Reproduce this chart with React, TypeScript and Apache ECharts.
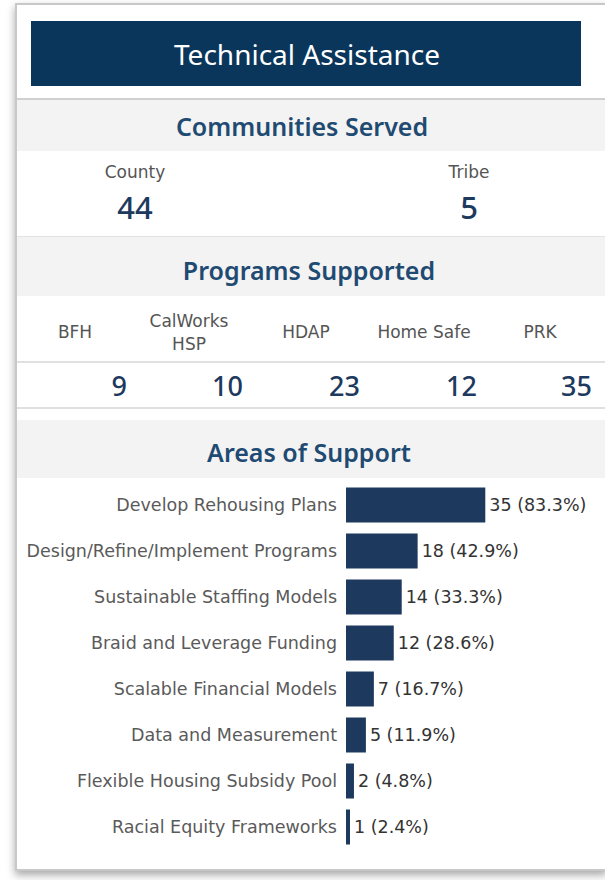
import React, { useEffect, useRef } from "react";
import * as echarts from "echarts";

const pageTitle = "Technical Assistance";
const communityLabels = ["County", "Tribe"];
const communityValues = [44, 5];
const programLabels = ["BFH", "CalWorks\nHSP", "HDAP", "Home Safe", "PRK"];
const programValues = [9, 10, 23, 12, 35];
const areaCategories = [
  "Develop Rehousing Plans",
  "Design/Refine/Implement Programs",
  "Sustainable Staffing Models",
  "Braid and Leverage Funding",
  "Scalable Financial Models",
  "Data and Measurement",
  "Flexible Housing Subsidy Pool",
  "Racial Equity Frameworks",
];
const areaValues = [35, 18, 14, 12, 7, 5, 2, 1];
const areaPercents = ["83.3%", "42.9%", "33.3%", "28.6%", "16.7%", "11.9%", "4.8%", "2.4%"];

const FONT = "DejaVu Sans";
const TFONT = "Noto Sans";
const NAVY = "#1d3a5e";
const TITLE_BLUE = "#1f4a72";

export default function App() {
  const ref = useRef<HTMLDivElement>(null);
  useEffect(() => {
    if (!ref.current) return;
    const chart = echarts.init(ref.current, null, { renderer: "svg" });

    const communityX = [135, 469];
    const programX = [75, 189, 306, 424, 540];
    const programValRight = [127, 243, 360, 477, 592];

    const graphics: any[] = [
      { type: "rect", shape: { x: 16, y: 4, width: 590, height: 866 }, style: { fill: "#ffffff", stroke: "#c8c8c8", lineWidth: 2, shadowBlur: 8, shadowColor: "rgba(0,0,0,0.35)", shadowOffsetY: 4 }, z: -10 },
      { type: "rect", shape: { x: 31, y: 21, width: 550, height: 65 }, style: { fill: "#0a365b" } },
      { type: "text", x: 307, y: 54, style: { text: pageTitle, fill: "#ffffff", font: `28px "${TFONT}"`, align: "center", verticalAlign: "middle" } },
      { type: "line", shape: { x1: 17, y1: 99, x2: 605, y2: 99 }, style: { stroke: "#d0d0d0", lineWidth: 2 } },
      { type: "rect", shape: { x: 17, y: 100, width: 588, height: 51 }, style: { fill: "#f3f3f3" } },
      { type: "text", x: 302, y: 126, style: { text: "Communities Served", fill: TITLE_BLUE, font: `600 25px "${TFONT}"`, align: "center", verticalAlign: "middle" } },
      { type: "line", shape: { x1: 17, y1: 236.5, x2: 605, y2: 236.5 }, style: { stroke: "#e2e2e2", lineWidth: 1 } },
      { type: "rect", shape: { x: 17, y: 237, width: 588, height: 59 }, style: { fill: "#f3f3f3" } },
      { type: "text", x: 309, y: 270, style: { text: "Programs Supported", fill: TITLE_BLUE, font: `600 25px "${TFONT}"`, align: "center", verticalAlign: "middle" } },
      { type: "line", shape: { x1: 17, y1: 362, x2: 605, y2: 362 }, style: { stroke: "#d6d6d6", lineWidth: 1.5 } },
      { type: "line", shape: { x1: 17, y1: 408, x2: 605, y2: 408 }, style: { stroke: "#d6d6d6", lineWidth: 1.5 } },
      { type: "rect", shape: { x: 17, y: 420, width: 588, height: 58 }, style: { fill: "#f3f3f3" } },
      { type: "text", x: 309, y: 452, style: { text: "Areas of Support", fill: TITLE_BLUE, font: `600 25px "${TFONT}"`, align: "center", verticalAlign: "middle" } },
    ];

    communityLabels.forEach((lab, i) => {
      graphics.push({ type: "text", x: communityX[i], y: 172, style: { text: lab, fill: "#555555", font: `17px "${FONT}"`, align: "center", verticalAlign: "middle" } });
      graphics.push({ type: "text", x: communityX[i], y: 207, style: { text: String(communityValues[i]), fill: NAVY, font: `500 31px "${TFONT}"`, align: "center", verticalAlign: "middle" } });
    });
    programLabels.forEach((lab, i) => {
      graphics.push({ type: "text", x: programX[i], y: 332, style: { text: lab, fill: "#555555", font: `17px "${FONT}"`, align: "center", verticalAlign: "middle", lineHeight: 23 } });
      graphics.push({ type: "text", x: programValRight[i], y: 385, style: { text: String(programValues[i]), fill: NAVY, font: `500 27px "${TFONT}"`, align: "right", verticalAlign: "middle" } });
    });

    chart.setOption({
      animation: false,
      grid: { left: 346, top: 482, width: 199, height: 368, containLabel: false },
      xAxis: { type: "value", min: 0, max: 50, show: false },
      yAxis: {
        type: "category",
        inverse: true,
        data: areaCategories,
        axisLine: { show: false },
        axisTick: { show: false },
        axisLabel: { color: "#5a5a5a", fontFamily: FONT, fontSize: 17.5, margin: 9 },
      },
      series: [
        {
          type: "bar",
          data: areaValues,
          barWidth: 35,
          itemStyle: { color: NAVY },
          label: {
            show: true,
            position: "right",
            distance: 4,
            color: "#333333",
            fontFamily: FONT,
            fontSize: 17.5,
            formatter: (p: any) => `${p.value} (${areaPercents[p.dataIndex]})`,
          },
        },
      ],
      graphic: graphics,
    });
    return () => chart.dispose();
  }, []);
  return (
    <div style={{ position: "absolute", left: 0, top: 0, width: 605, height: 880, background: "#ffffff" }}>
      <div ref={ref} style={{ width: 605, height: 880 }} />
    </div>
  );
}
